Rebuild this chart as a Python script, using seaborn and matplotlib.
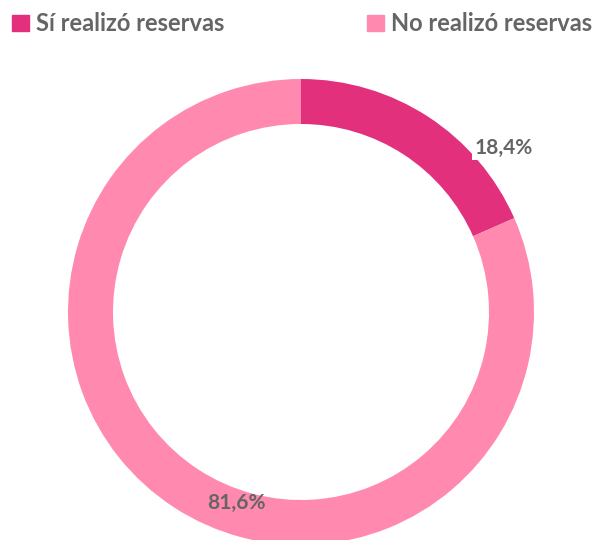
import matplotlib.pyplot as plt
import matplotlib.patches as mpatches
import seaborn as sns
import numpy as np

# Data
categories = ['Sí realizó reservas', 'No realizó reservas']
shares = [18.4, 81.6]
labels = ['18,4%', '81,6%']
colors = ['#E2307C', '#FF89AF']

sns.set_theme(style='white')
plt.rcParams['font.family'] = ['Lato', 'DejaVu Sans']
text_grey = '#656565'

fig = plt.figure(figsize=(6.01, 5.4), dpi=100)
ax = fig.add_axes([0, 0, 1, 1])

R = 233.0
wedges, _ = ax.pie(shares, colors=colors, startangle=90, counterclock=False,
                   radius=1, wedgeprops=dict(width=45 / R, linewidth=0))
ax.set_xlim(-301 / R, 300 / R)
ax.set_ylim(-228 / R, 312 / R)
ax.set_aspect('equal')
ax.axis('off')

# data labels (angle in degrees, distance relative to radius)
label_pos = [(39.0, 1.12), (251.2, 0.865)]
for i, (ang, dist) in enumerate(label_pos):
    x = dist * np.cos(np.radians(ang))
    y = dist * np.sin(np.radians(ang))
    kw = {}
    if i == 0:
        kw['bbox'] = dict(facecolor='white', edgecolor='none', pad=2)
    ax.text(x, y, labels[i], ha='center', va='center', fontsize=15,
            fontweight='bold', color=text_grey, **kw)

handles = [mpatches.Patch(color=c, label=l) for c, l in zip(colors, categories)]
common = dict(frameon=False, handlelength=0.7, handleheight=0.7, handletextpad=0.3,
              borderpad=0, borderaxespad=0, labelcolor=text_grey,
              prop=dict(weight='bold', size=17))
fig.legend(handles=[handles[0]], loc='center left', bbox_to_anchor=(0.02, 0.956), **common)
fig.legend(handles=[handles[1]], loc='center right', bbox_to_anchor=(0.985, 0.956), **common)

fig.savefig('out.png', dpi=100)
